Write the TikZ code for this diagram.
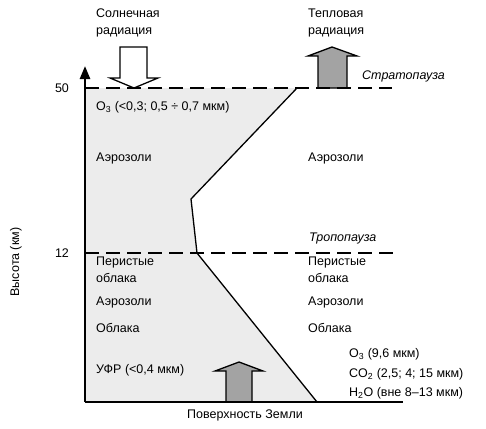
\documentclass[tikz,border=0pt]{standalone}
\usepackage{fontspec}
\setmainfont{Liberation Sans}
\usetikzlibrary{arrows.meta}

\definecolor{layergray}{gray}{0.925}
\definecolor{beamgray}{gray}{0.64}

\tikzset{
  lbl/.style={anchor=west, inner sep=0pt},
  pause/.style={anchor=west, inner sep=0pt, font=\fontsize{12.5}{17}\selectfont\itshape},
  bound/.style={line width=2.6pt, dash pattern=on 14pt off 7pt},
  beam/.style={line width=1.3pt, line join=miter},
}

\begin{document}
\begin{tikzpicture}[x=1pt, y=-1pt, font=\fontsize{12.5}{17}\selectfont]
\useasboundingbox (0,0) rectangle (486,428);
% --- absorbing layer ---
\fill[layergray] (85,88) -- (297,88) -- (191,199) -- (197,253) -- (317,402) -- (85,402) -- cycle;
\draw[line width=1.3pt] (297,88) -- (191,199) -- (197,253) -- (317,402);
% --- radiation arrows ---
\draw[beam, fill=white] (120,47) -- (147,47) -- (147,78) -- (158,78) -- (134,88) -- (110,78) -- (120,78) -- cycle;
\draw[beam, fill=beamgray] (318,88) -- (318,56) -- (308,56) -- (332,47) -- (357,56) -- (347,56) -- (347,88) -- cycle;
\draw[beam, fill=beamgray] (226,402) -- (226,371) -- (215,371) -- (239,362) -- (263,371) -- (252,371) -- (252,402) -- cycle;
% --- stratopause / tropopause ---
\draw[bound] (85,88) -- (392,88);
\draw[bound] (85,253) -- (393,253);
% --- axes ---
\coordinate (orig) at (85,402);
\coordinate (xend) at (403,402);
\coordinate (yend) at (85,66);
\draw[line width=2.5pt] (orig) -- (xend);
\draw[line width=2.5pt, -{Triangle[length=13pt, width=10pt]}] (orig) -- (yend);
\node (t50) at (62,88) {50};
\node (t12) at (62,253) {12};
\node[rotate=90] (ylab) at (16,262) {Высота (км)};
\node (ground) at (245,415) {Поверхность Земли};
% --- labels ---
\node[lbl, align=left] (sun) at (96,23) {Солнечная\\радиация};
\node[lbl, align=left] (heat) at (308,23) {Тепловая\\радиация};
\node[pause] (strato) at (362,76) {Стратопауза};
\node[pause] (tropo) at (309,238) {Тропопауза};
\node[lbl] (ozone) at (96,107) {O\textsubscript{3} (<0,3; 0,5 ÷ 0,7 мкм)};
\node[lbl] (aerL1) at (96,158) {Аэрозоли};
\node[lbl] (aerR1) at (308,158) {Аэрозоли};
\node[lbl, align=left] (cirL) at (96,270) {Перистые\\облака};
\node[lbl, align=left] (cirR) at (308,270) {Перистые\\облака};
\node[lbl] (aerL2) at (96,302) {Аэрозоли};
\node[lbl] (aerR2) at (308,302) {Аэрозоли};
\node[lbl] (cldL) at (96,328) {Облака};
\node[lbl] (cldR) at (308,328) {Облака};
\node[lbl] (uv) at (96,370) {УФР (<0,4 мкм)};
\node[lbl] (o3ir) at (349,354) {O\textsubscript{3} (9,6 мкм)};
\node[lbl] (co2ir) at (349,374) {CO\textsubscript{2} (2,5; 4; 15 мкм)};
\node[lbl] (h2oir) at (349,393) {H\textsubscript{2}O (вне 8–13 мкм)};
\end{tikzpicture}
\end{document}
